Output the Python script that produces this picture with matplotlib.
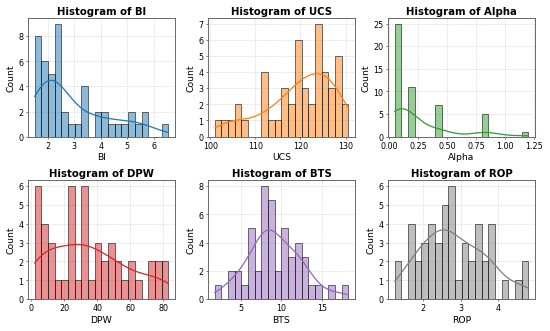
import numpy as np
import matplotlib
matplotlib.use("Agg")
import matplotlib.pyplot as plt
import matplotlib.colors as mcolors
import seaborn as sns

# bin counts (20 bins each), with the data range
bi_counts = [8, 6, 5, 9, 2, 1, 1, 4, 0, 2, 2, 1, 1, 1, 2, 1, 2, 0, 0, 1]
bi_range = (1.5, 6.55)
ucs_counts = [1, 1, 1, 2, 1, 0, 0, 4, 1, 1, 3, 2, 6, 3, 2, 7, 4, 3, 5, 2]
ucs_range = (101.0, 130.6)
alpha_counts = [25, 0, 11, 0, 0, 0, 7, 0, 0, 0, 0, 0, 0, 5, 0, 0, 0, 0, 0, 1]
alpha_range = (0.05, 1.2)
dpw_counts = [6, 4, 3, 1, 1, 6, 1, 6, 1, 3, 2, 3, 2, 1, 2, 1, 0, 2, 2, 2]
dpw_range = (2.0, 83.0)
bts_counts = [1, 0, 2, 2, 1, 5, 2, 8, 7, 2, 5, 3, 4, 3, 1, 1, 0, 1, 0, 1]
bts_range = (1.8, 18.2)
rop_counts = [2, 0, 4, 2, 3, 4, 3, 5, 6, 1, 3, 2, 4, 2, 4, 0, 1, 0, 1, 2]
rop_range = (1.25, 4.8)

names = ['BI', 'UCS', 'Alpha', 'DPW', 'BTS', 'ROP']
counts = [bi_counts, ucs_counts, alpha_counts, dpw_counts, bts_counts, rop_counts]
ranges = [bi_range, ucs_range, alpha_range, dpw_range, bts_range, rop_range]
colors = ['tab:blue', 'tab:orange', 'tab:green', 'tab:red', 'tab:purple', 'tab:gray']

fig, axes = plt.subplots(2, 3, figsize=(12, 7.24), dpi=550 / 12)

for ax, name, c, r, col in zip(axes.flat, names, counts, ranges, colors):
    edges = np.linspace(r[0], r[1], len(c) + 1)
    centers = (edges[:-1] + edges[1:]) / 2
    samples = np.repeat(centers, c)
    sns.histplot(x=samples, bins=edges, kde=True, color=col, ax=ax,
                 kde_kws={'cut': 3, 'clip': r}, line_kws={'linewidth': 2})
    for p in ax.patches:
        p.set_facecolor(mcolors.to_rgba(col, 0.5))
        p.set_edgecolor((0, 0, 0, 0.65))
        p.set_linewidth(1.3)
    span = r[1] - r[0]
    ax.set_xlim(r[0] - 0.05 * span, r[1] + 0.05 * span)
    ax.set_title('Histogram of ' + name, fontsize=16, fontweight='bold')
    ax.set_xlabel(name, fontsize=14.5)
    ax.set_ylabel('Count', fontsize=14.5)
    ax.tick_params(labelsize=12.5)
    ax.grid(True, linestyle=':', linewidth=1, color='#bbbbbb')
    ax.set_axisbelow(True)
    for s in ax.spines.values():
        s.set_color('#666666')
        s.set_linewidth(1.5)

axes[0, 1].yaxis.set_major_locator(plt.MultipleLocator(1))
axes[0, 2].xaxis.set_major_locator(plt.MultipleLocator(0.25))

plt.tight_layout()
fig.savefig('out.png', dpi=550 / 12)
